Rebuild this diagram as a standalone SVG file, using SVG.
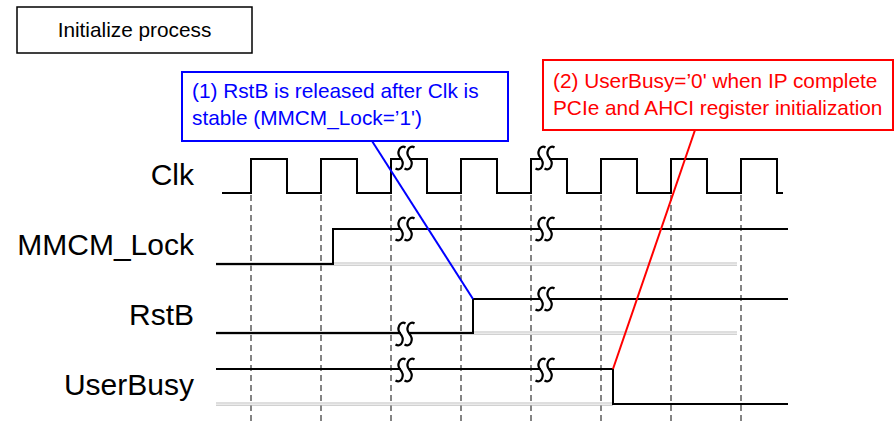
<svg xmlns="http://www.w3.org/2000/svg" xmlns:xlink="http://www.w3.org/1999/xlink" width="895" height="423" viewBox="0 0 895 423">
<style>
.lbl{font-family:"Liberation Sans",Arial,sans-serif;font-size:30px;fill:#000;text-anchor:end}
.txt{font-family:"Liberation Sans",Arial,sans-serif;font-size:20.8px}
.sig{fill:none;stroke:#000;stroke-width:2}
.grid{stroke:#666;stroke-width:1.6;stroke-dasharray:6 4;fill:none}
.base{stroke:#b5b5b5;stroke-width:0.9;fill:none}
.brk{fill:none;stroke:#000;stroke-width:2.2}
</style>
<defs>
<g id="brk">
<rect x="-4" y="-3" width="8" height="6" fill="#fff"/>
<path class="brk" d="M0.5,-10.5 C-5,-14 -9,-5 -4.5,0 C0,5 -3,14 -9.5,10.5"/>
<path class="brk" d="M9.5,-10.5 C4,-14 0,-5 4.5,0 C9,5 6,14 -0.5,10.5"/>
</g>
</defs>
<rect width="895" height="423" fill="#fff"/>

<g id="title">
<rect x="17" y="7" width="235" height="46" fill="#fff" stroke="#000" stroke-width="1.5"/>
<text class="txt" x="134.5" y="37" text-anchor="middle" fill="#000">Initialize process</text>
</g>

<g id="gridlines">
<path class="grid" d="M251,195V423 M321,195V423 M391,195V423 M461,195V423 M531,195V423 M601,195V423 M671,195V423 M741,195V423"/>
</g>

<g id="baselines">
<path class="base" d="M216,263H737 M216,265.2H737 M216,332H737 M216,334.2H737 M216,403H613 M216,405.2H613"/>
</g>

<g id="clk">
<text class="lbl" x="194" y="185">Clk</text>
<path class="sig" d="M222,193H251V159H287V193H321V159H357V193H391V159H427V193H461V159H497V193H531V159H567V193H601V159H637V193H671V159H707V193H741V159H777V193H783"/>
<use xlink:href="#brk" x="405" y="158"/>
<use xlink:href="#brk" x="545" y="158"/>
</g>

<g id="mmcm_lock">
<text class="lbl" x="194" y="255">MMCM_Lock</text>
<path class="sig" d="M216,264H333V229H788"/>
<use xlink:href="#brk" x="405" y="229"/>
<use xlink:href="#brk" x="545" y="229"/>
</g>

<g id="rstb">
<text class="lbl" x="194" y="325">RstB</text>
<path class="sig" d="M216,333H473V299H788"/>
<use xlink:href="#brk" x="405" y="334"/>
<use xlink:href="#brk" x="545" y="299"/>
</g>

<g id="userbusy">
<text class="lbl" x="194" y="395">UserBusy</text>
<path class="sig" d="M216,369H613V404H788"/>
<use xlink:href="#brk" x="405" y="370"/>
<use xlink:href="#brk" x="545" y="370"/>
</g>

<g id="note1">
<rect x="182" y="72" width="326" height="69" fill="#fff" stroke="#0000ff" stroke-width="2"/>
<text class="txt" fill="#0000ff"><tspan x="192" y="98">(1) RstB is released after Clk is</tspan><tspan x="192" y="125">stable (MMCM_Lock=’1')</tspan></text>
</g>

<g id="note2">
<rect x="543" y="60" width="350" height="70" fill="#fff" stroke="#ff0000" stroke-width="2"/>
<text class="txt" fill="#ff0000"><tspan x="553" y="88">(2) UserBusy=’0' when IP complete</tspan><tspan x="553" y="115">PCIe and AHCI register initialization</tspan></text>
</g>

<g id="connectors">
<line x1="372" y1="141" x2="473" y2="299" stroke="#0000ff" stroke-width="2"/>
<line x1="613" y1="369" x2="695" y2="130" stroke="#ff0000" stroke-width="2"/>
</g>
</svg>
